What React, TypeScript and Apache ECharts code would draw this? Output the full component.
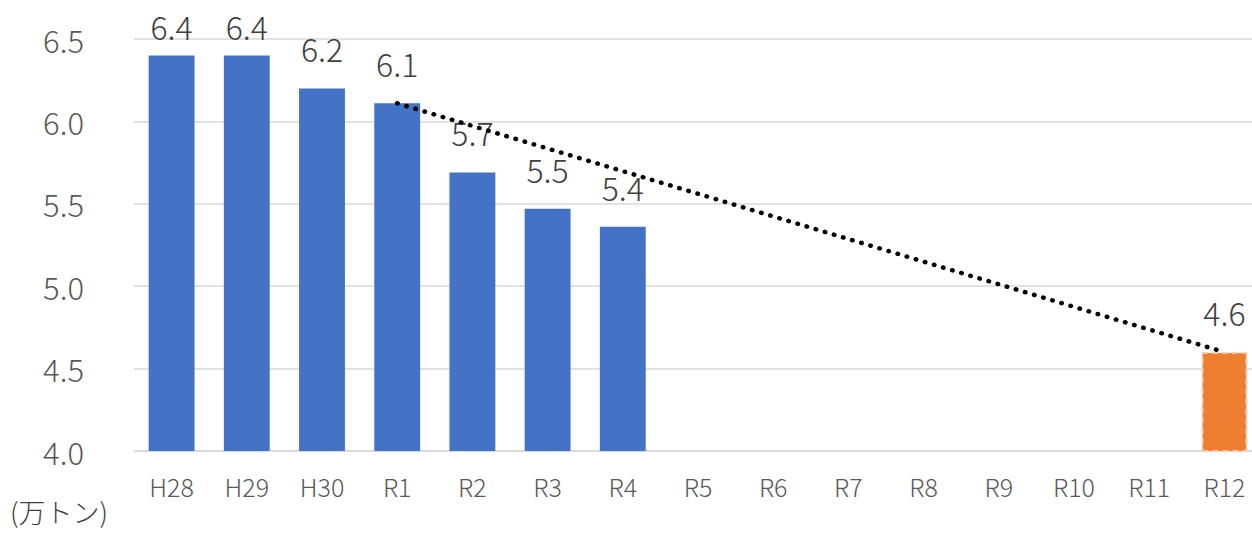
import React, { useEffect, useRef } from "react";
import * as echarts from "echarts";

const categories = ["H28", "H29", "H30", "R1", "R2", "R3", "R4", "R5", "R6", "R7", "R8", "R9", "R10", "R11", "R12"];
const actualValues: (number | null)[] = [6.4, 6.4, 6.2, 6.11, 5.69, 5.47, 5.36, null, null, null, null, null, null, null, null];
const targetValues: (number | null)[] = [null, null, null, null, null, null, null, null, null, null, null, null, null, null, 4.6];
const trendValues: (number | null)[] = [null, null, null, 6.11, null, null, null, null, null, null, null, null, null, null, 4.6];
const unitLabel = "(万トン)";

const FONT = "'Noto Sans CJK JP', 'Noto Sans', sans-serif";

export default function App() {
  const ref = useRef<HTMLDivElement>(null);
  useEffect(() => {
    if (!ref.current) return;
    document.body.style.overflow = "hidden";
    const chart = echarts.init(ref.current, undefined, { renderer: "svg" });
    const labelCfg = {
      show: true,
      position: "top" as const,
      distance: 24,
      color: "#404040",
      fontSize: 32,
      fontWeight: 300,
      fontFamily: FONT,
      formatter: (p: any) => (p.value == null ? "" : Number(p.value).toFixed(1)),
    };
    // labels near the top edge are pulled down (kept inside the chart area)
    const barData = actualValues.map((v) =>
      v != null && v > 6.3 ? { value: v, label: { distance: 13 } } : v
    );
    chart.setOption({
      animation: false,
      textStyle: { fontFamily: FONT },
      grid: { left: 134, right: 0, top: 39, bottom: 83, containLabel: false },
      xAxis: {
        type: "category",
        data: categories,
        axisTick: { show: false },
        axisLine: { lineStyle: { color: "#d9d9d9", width: 1.5 } },
        axisLabel: { color: "#595959", fontSize: 25, fontWeight: 300, fontFamily: FONT, margin: 22 },
      },
      yAxis: {
        type: "value",
        min: 4.0,
        max: 6.5,
        interval: 0.5,
        axisLine: { show: false },
        axisTick: { show: false },
        splitLine: { lineStyle: { color: "#d9d9d9", width: 1.5 } },
        axisLabel: {
          color: "#595959",
          fontSize: 31,
          fontWeight: 300,
          fontFamily: FONT,
          margin: 50,
          formatter: (v: number) => v.toFixed(1),
        },
      },
      graphic: [
        {
          type: "text",
          left: 10,
          top: 498,
          style: { text: unitLabel, fontSize: 27, fill: "#404040", fontFamily: FONT, fontWeight: 300 },
        },
      ],
      series: [
        {
          type: "bar",
          data: barData,
          stack: "a",
          barCategoryGap: "39%",
          itemStyle: { color: "#4472C4" },
          label: labelCfg,
        },
        {
          type: "bar",
          data: targetValues,
          stack: "a",
          itemStyle: {
            color: "#ED7D31",
            borderColor: "#F8CBAD",
            borderWidth: 2,
            borderType: [6, 4],
          },
          label: labelCfg,
        },
        {
          type: "line",
          data: trendValues,
          connectNulls: true,
          symbol: "none",
          z: 5,
          lineStyle: { color: "#000000", width: 4.5, type: [0.5, 9], cap: "round" },
        },
      ],
    });
    return () => chart.dispose();
  }, []);
  return (
    <div style={{ position: "fixed", left: 0, top: 0, width: 1252, height: 534, overflow: "hidden", background: "#fff" }}>
      <div ref={ref} style={{ width: 1262, height: 534 }} />
    </div>
  );
}
